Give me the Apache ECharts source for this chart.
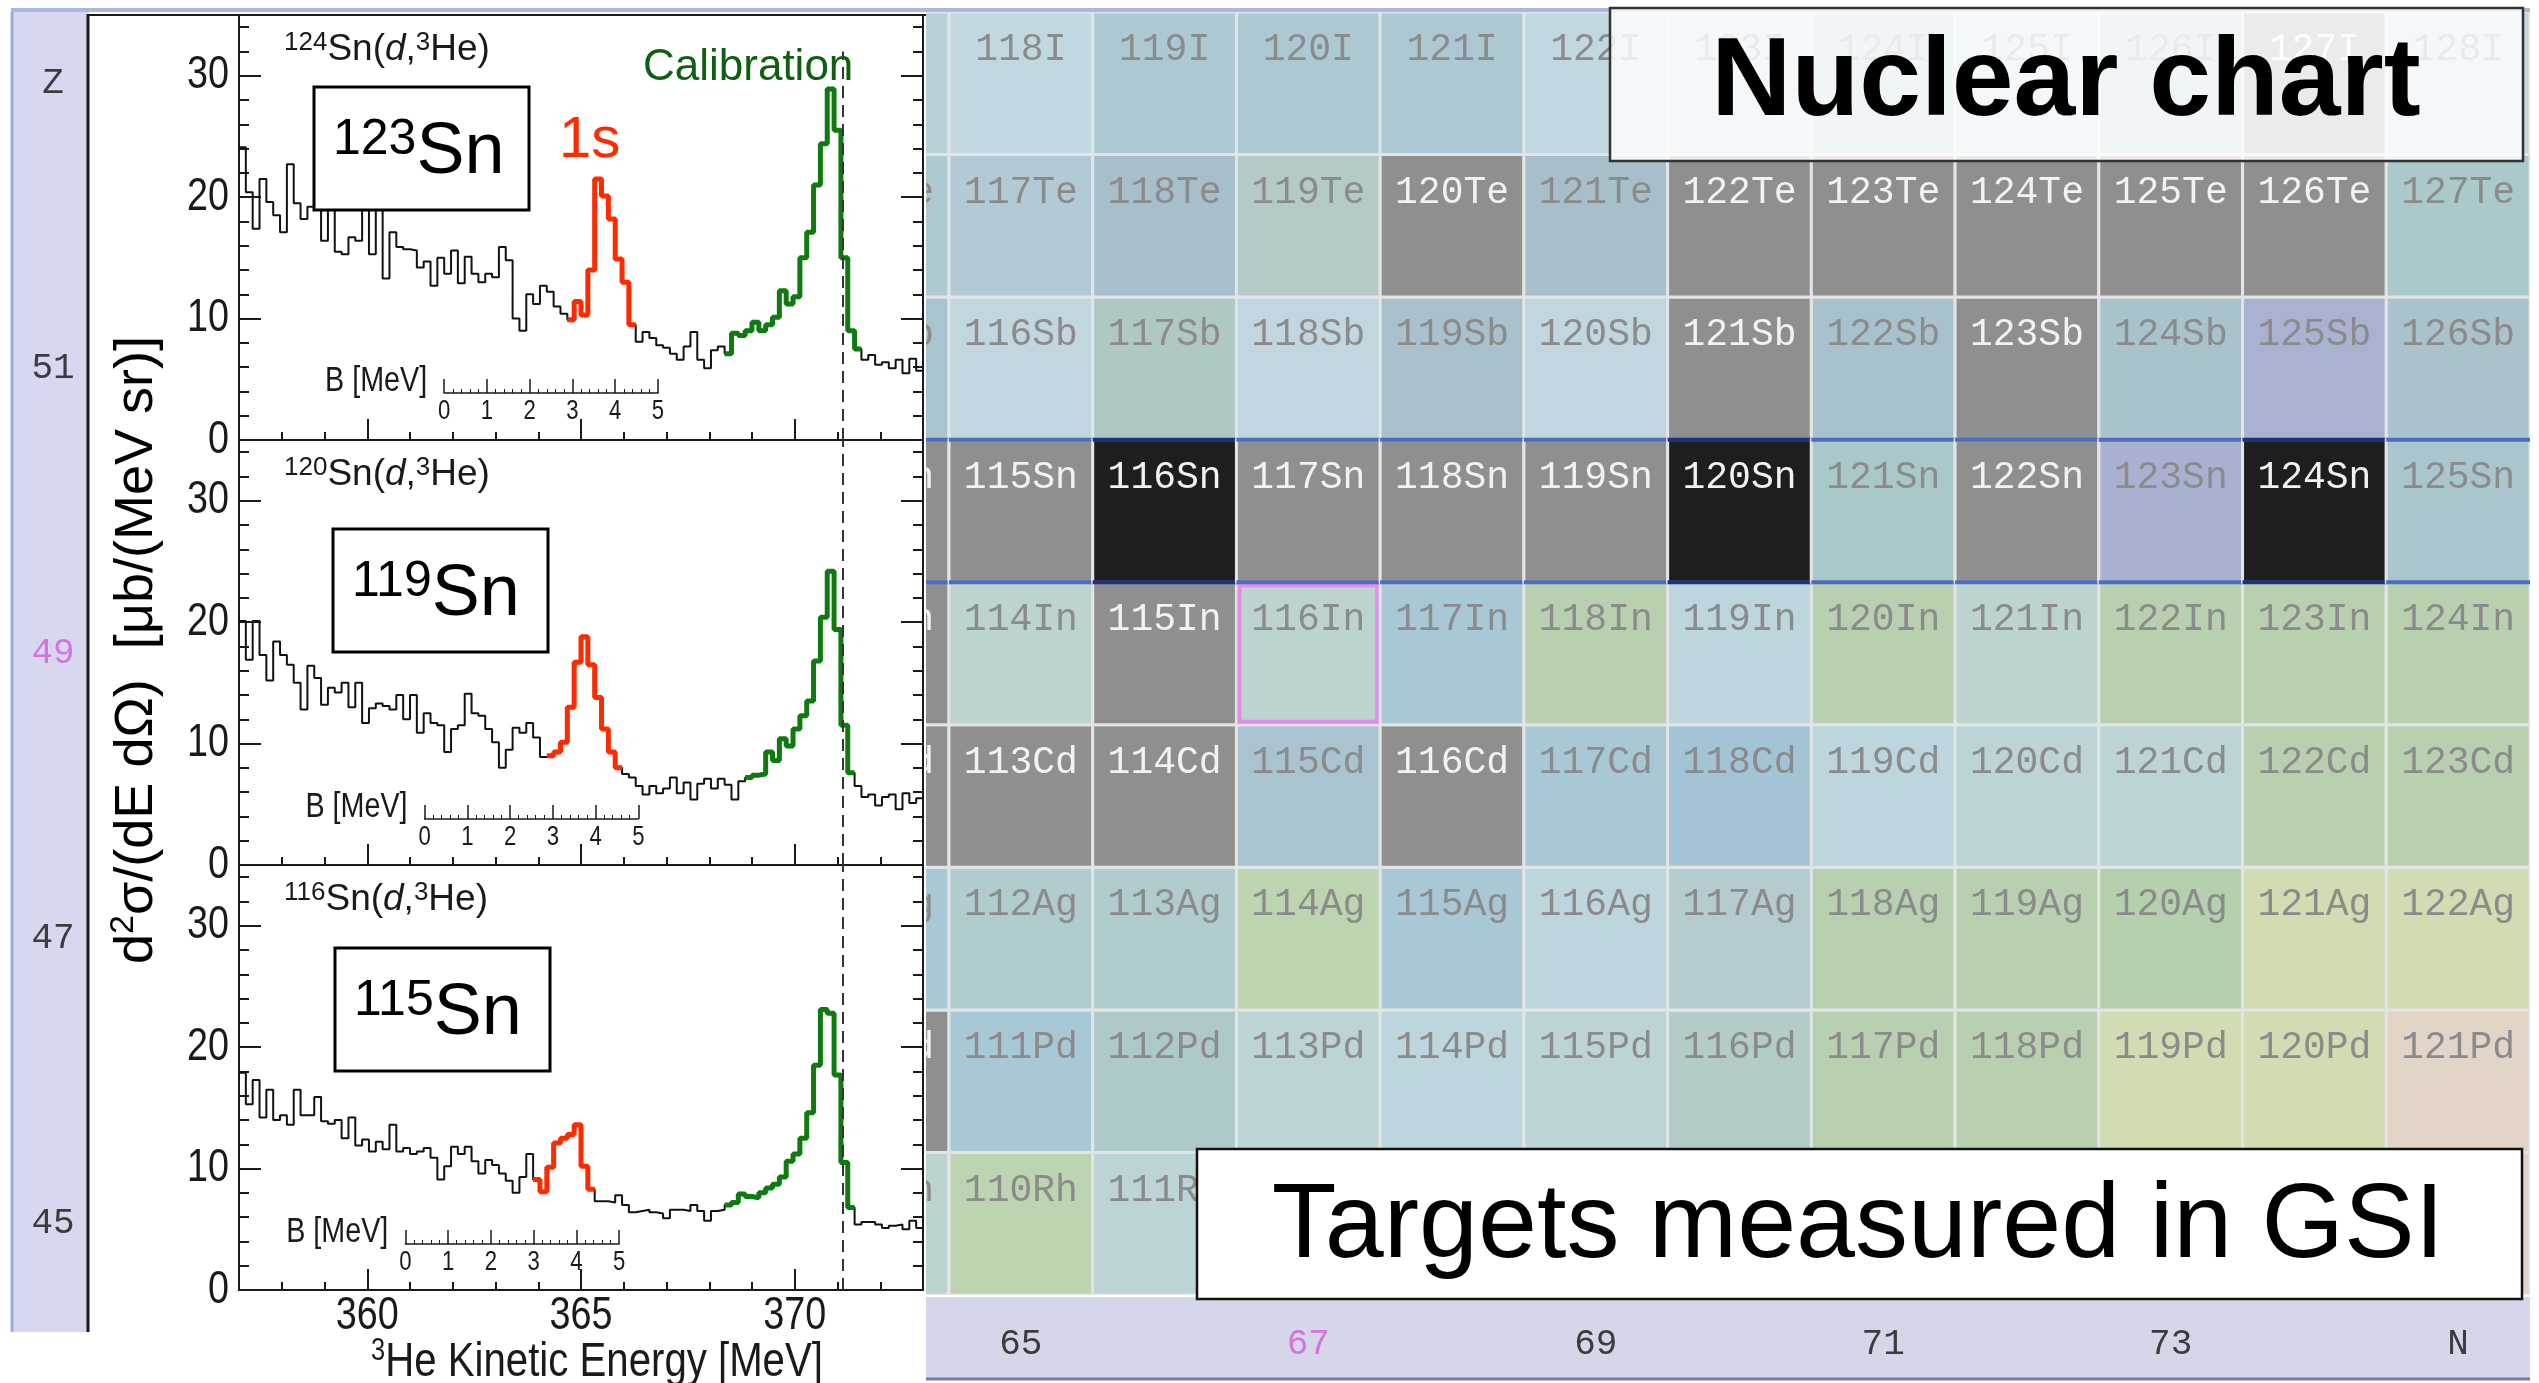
<!DOCTYPE html>
<html>
<head>
<meta charset="utf-8">
<title>(d,3He) spectra and nuclear chart</title>
<script src="https://cdn.jsdelivr.net/npm/echarts@6/dist/echarts.min.js"></script>
<style>
  html, body { margin: 0; padding: 0; background: #fff; }
  #main { width: 2539px; height: 1383px; }
</style>
</head>
<body>
<div id="main"></div>
<script>
var chart = echarts.init(document.getElementById('main'))

var SANS = "'Liberation Sans', Arial, sans-serif"
var MONO = "'Liberation Mono', 'DejaVu Sans Mono', monospace"
var INK = '#1a1a1a'
// the plot's own lettering is condensed; no narrow face is installed, so squeeze Liberation Sans
var NARROW_SCALE = 0.82

// ---- spectra: 3He kinetic energy, bins of 0.16 MeV from 357 to 373 MeV
var eMin = 357
var eMax = 373
var binWidth = 0.16
var sn124 = [24.1, 20.4, 17.4, 21.5, 19.6, 18.5, 17.1, 22.7, 19.5, 18.2,
  19.2, 19.5, 16.4, 20.0, 15.5, 15.3, 16.7, 16.4, 20.0, 15.3,
  20.0, 13.3, 17.1, 15.9, 15.7, 15.6, 14.2, 14.7, 12.7, 15.0,
  13.7, 15.6, 12.9, 15.1, 13.7, 13.0, 13.7, 13.4, 15.9, 14.8,
  10.0, 9.0, 12.0, 11.2, 12.7, 12.2, 11.0, 10.4, 9.9, 11.4,
  10.3, 14.0, 21.5, 20.1, 18.2, 14.9, 13.0, 9.5, 8.1, 8.9,
  8.4, 7.8, 7.6, 7.1, 6.6, 7.7, 8.9, 6.6, 5.9, 7.4,
  7.7, 7.1, 8.8, 8.6, 9.0, 9.7, 9.0, 9.5, 10.1, 12.3,
  11.2, 11.8, 15.0, 17.1, 21.0, 24.4, 28.9, 25.5, 15.0, 9.0,
  7.5, 6.6, 7.0, 6.2, 6.4, 5.9, 6.6, 5.5, 6.7, 5.7]
var sn120 = [20.1, 16.9, 20.1, 17.3, 15.2, 18.4, 17.3, 16.5, 15.0, 12.8,
  16.4, 15.4, 13.2, 14.6, 14.2, 15.0, 13.0, 15.0, 11.7, 12.9,
  13.3, 13.1, 12.8, 14.0, 12.0, 14.0, 10.9, 12.5, 11.7, 11.5,
  9.3, 11.2, 11.5, 14.1, 12.5, 12.3, 11.2, 10.1, 8.0, 9.5,
  11.3, 10.9, 11.7, 10.5, 8.9, 9.0, 9.3, 10.1, 13.0, 16.7,
  18.8, 16.5, 13.8, 11.2, 9.3, 8.0, 7.5, 7.2, 6.5, 5.8,
  6.5, 5.9, 6.3, 7.2, 5.9, 6.8, 5.4, 6.7, 7.1, 6.3,
  7.1, 6.6, 5.4, 6.9, 7.2, 7.4, 7.5, 9.3, 8.6, 10.4,
  9.8, 11.2, 12.3, 13.5, 16.8, 20.4, 24.2, 19.4, 11.5, 7.6,
  6.5, 5.6, 5.8, 4.9, 5.6, 5.8, 4.6, 5.9, 5.1, 5.5]
var sn116 = [17.9, 15.3, 17.3, 14.2, 16.5, 14.0, 14.4, 13.6, 16.5, 14.4,
  14.4, 15.9, 13.9, 13.7, 14.0, 12.5, 14.2, 11.9, 12.4, 11.4,
  12.2, 11.6, 13.6, 11.4, 11.7, 11.2, 11.4, 11.7, 10.9, 9.1,
  10.2, 11.8, 11.2, 11.8, 10.6, 9.6, 10.7, 10.3, 9.6, 9.0,
  8.0, 9.3, 11.2, 9.1, 8.1, 10.1, 12.1, 12.5, 12.8, 13.6,
  10.2, 8.3, 7.3, 7.3, 7.2, 7.8, 7.0, 6.4, 6.5, 6.6,
  6.4, 6.3, 5.9, 6.6, 6.6, 6.5, 7.0, 6.5, 5.7, 6.5,
  6.6, 7.0, 7.2, 7.9, 7.7, 7.6, 8.0, 8.4, 8.7, 9.3,
  10.6, 11.2, 12.5, 14.6, 18.5, 23.1, 22.8, 17.7, 10.5, 6.8,
  5.4, 5.6, 5.6, 5.4, 5.1, 5.3, 5.4, 5.0, 5.7, 5.1]
var spectra = [sn124, sn120, sn116]
var targets = ['124', '120', '116']
var residues = ['123', '119', '115']
// bins drawn in red (1s peak) and green (calibration peak): [first, last + 1]
var redBins = [[48, 58], [45, 56], [43, 52]]
var greenBins = [[71, 91], [74, 90], [71, 90]]
var calibEnergy = 371.13
var calibLineTop = [32, 35, 35]
var energyTicks = [360, 365, 370]
var yTicks = [0, 10, 20, 30]
var bTicks = [0, 1, 2, 3, 4, 5]
// energy of the B = 0 mark of each inset binding-energy scale
var bScaleStart = [361.80, 361.34, 360.89]

// ---- nuclear chart (N = 64..75, Z = 45..53); 'S' stable, 'T' measured target
var nValues = [64, 65, 66, 67, 68, 69, 70, 71, 72, 73, 74, 75]
var zValues = [45, 46, 47, 48, 49, 50, 51, 52, 53]
var elements = ['Rh', 'Pd', 'Ag', 'Cd', 'In', 'Sn', 'Sb', 'Te', 'I']
var rowRh = ['#bcd4d0', '#bcd4b0', '#bcd4d6', '#b8d0b0', '#b8d0b0', '#b8d0b0', '#d1dcb2', '#d1dcb2', '#d1dcb2', '#e2d5c8', '#e2d5c8', '#e2d5c8']
var rowPd = ['S', '#a9c8d5', '#adc9ca', '#bcd4d6', '#bdd5dd', '#bcd4d6', '#b4ccc8', '#b8d0b0', '#b8d0b0', '#d1dcb2', '#d1dcb2', '#e2d5c8']
var rowAg = ['#a9c8d5', '#b1cccf', '#b1cccf', '#bcd4b0', '#a9c8d5', '#bdd5dd', '#b4ccd0', '#b8d0b0', '#b8d0b0', '#b4d0ac', '#d1dcb2', '#d1dcb2']
var rowCd = ['S', 'S', 'S', '#a9c3d0', 'S', '#a9c8d5', '#a2c4d4', '#bdd5dd', '#bcd4d6', '#bcd4d6', '#b8d0b0', '#b8d0b0']
var rowIn = ['S', '#bcd3cf', 'S', '#bcd3cf', '#a9c8d5', '#b8d0b0', '#bdd5dd', '#b8d0b0', '#bcd3cf', '#b8d0b0', '#b8d0b0', '#b8d0b0']
var rowSn = ['S', 'S', 'T', 'S', 'S', 'S', 'T', '#a9c8c9', 'S', '#a8b1d0', 'T', '#a9c6cd']
var rowSb = ['#a8c4cf', '#c1d6de', '#b0c8c4', '#c1d6de', '#a9c1cd', '#c1d6de', 'S', '#a8c2cd', 'S', '#a8c3cc', '#a9b3d1', '#a9c2cc']
var rowTe = ['#afc9d3', '#b1cad5', '#a7bfcb', '#b3cac8', 'S', '#a7bfcb', 'S', 'S', 'S', 'S', 'S', '#a9c9cb']
var rowI = ['#b8d0d8', '#c2d8e0', '#abc8d3', '#abc8d3', '#abc8d3', '#c2d8e0', '#c2d8e0', '#abc8d3', '#c2d8e0', '#abc8d3', 'S', '#c2d8e0']
var nLabels = [65, 67, 69, 71, 73, 75]
var zLabels = [45, 47, 49, 51, 53]
var highlighted = [67, 49]

// ---- layout
var plotLeft = 239, plotWidth = 684, plotHeight = 425
var plotTops = [15, 440, 865]
var pxPerMeV = plotWidth / (eMax - eMin)
var bScaleAxisY = [393, 819, 1244]
var boxLeft = [314, 333, 335], boxDrop = [72, 89, 83]
var chartLeft = 926, chartTop = 12, chartWidth = 1604, chartHeight = 1283

var rows = [rowRh, rowPd, rowAg, rowCd, rowIn, rowSn, rowSb, rowTe, rowI]
var cells = []
rows.forEach(function (row, r) {
  row.forEach(function (kind, c) {
    var dark = kind === 'S' || kind === 'T'
    cells.push({
      n: nValues[c], z: zValues[r], kind: kind,
      label: (nValues[c] + zValues[r]) + elements[r],
      fill: kind === 'S' ? '#8f8f8f' : kind === 'T' ? '#1e1e1e' : kind,
      text: dark ? '#f2f2f2' : '#8b8b8b'
    })
  })
})
// the Z = 50 row carries the magic-number border, so draw it last
cells.sort(function (a, b) { return (a.z === 50) - (b.z === 50) })

function renderCell(params, api) {
  var cell = cells[params.dataIndex]
  var tl = api.coord([cell.n - 0.5, cell.z + 0.5])
  var br = api.coord([cell.n + 0.5, cell.z - 0.5])
  var w = br[0] - tl[0], h = br[1] - tl[1]
  var children = [{
    type: 'rect',
    shape: { x: tl[0], y: tl[1], width: w, height: h },
    style: { fill: cell.fill, stroke: '#e2e4e5', lineWidth: 3 }
  }, {
    type: 'text',
    style: {
      text: cell.label, x: tl[0] + w / 2, y: tl[1] + 38,
      align: 'center', verticalAlign: 'middle',
      fill: cell.text, font: '38px ' + MONO
    }
  }]
  if (cell.z === 50) {
    var edge = cell.kind === 'T' ? '#1f2f7a' : '#4d6cc0'
    children.push({ type: 'line', shape: { x1: tl[0], y1: tl[1], x2: br[0], y2: tl[1] }, style: { stroke: edge, lineWidth: 4 } })
    children.push({ type: 'line', shape: { x1: tl[0], y1: br[1], x2: br[0], y2: br[1] }, style: { stroke: edge, lineWidth: 4 } })
  }
  if (cell.n === highlighted[0] && cell.z === highlighted[1]) {
    children.push({ type: 'rect', shape: { x: tl[0] + 3, y: tl[1] + 3, width: w - 6, height: h - 6 }, style: { fill: 'none', stroke: '#e38ce8', lineWidth: 4 } })
  }
  return { type: 'group', children: children }
}

function stepPoints(values, from, to) {
  var pts = []
  for (var i = from; i < to; i++) pts.push([eMin + i * binWidth, values[i]])
  pts.push([eMin + to * binWidth, values[to - 1]])
  return pts
}

function narrowText(x, y, text, size, align, vAlign, extra) {
  var style = { text: text, fontSize: size, fontFamily: SANS, fill: INK, align: align, verticalAlign: vAlign }
  if (extra) for (var key in extra) style[key] = extra[key]
  return { type: 'text', z: 6, x: x, y: y, scaleX: NARROW_SCALE, style: style }
}

var tickLine = { color: INK, width: 2 }

var grids = [
  { left: chartLeft, top: chartTop, width: chartWidth, height: chartHeight, outerBoundsMode: 'none' },
  { left: 89, top: chartTop, width: 1, height: chartHeight, outerBoundsMode: 'none' }
]
var xAxes = [{
  gridIndex: 0, type: 'value', min: 64.34, max: 75.5, position: 'bottom',
  axisLine: { show: false }, axisTick: { show: false }, splitLine: { show: false },
  axisLabel: {
    customValues: nLabels, margin: 31, fontSize: 36, fontFamily: MONO, color: '#3c3c3c',
    formatter: function (v) { return v === 75 ? 'N' : v === 67 ? '{m|67}' : String(v) },
    rich: { m: { color: '#d575dc', fontSize: 36, fontFamily: MONO } }
  }
}, { gridIndex: 1, type: 'value', min: 0, max: 1, show: false }]
var yAxes = [{ gridIndex: 0, type: 'value', min: 44.5, max: 53.5, show: false }, {
  gridIndex: 1, type: 'value', min: 44.5, max: 53.5, position: 'left',
  axisLine: { show: false }, axisTick: { show: false }, splitLine: { show: false },
  axisLabel: {
    customValues: zLabels, margin: 36, align: 'center', fontSize: 36, fontFamily: MONO, color: '#3c3c3c',
    formatter: function (v) { return v === 53 ? 'Z' : v === 49 ? '{m|49}' : String(v) },
    rich: { m: { color: '#d575dc', fontSize: 36, fontFamily: MONO } }
  }
}]

var series = [{
  type: 'custom', xAxisIndex: 0, yAxisIndex: 0, clip: true, silent: true,
  renderItem: renderCell,
  data: cells.map(function (c) { return [c.n, c.z] })
}]

var plotXIndex = [], plotYIndex = [], bXIndex = []

plotTops.forEach(function (top, k) {
  var g = grids.length
  grids.push({ left: plotLeft, top: top, width: plotWidth, height: plotHeight, show: true, borderColor: INK, borderWidth: 2, outerBoundsMode: 'none' })
  var xi = xAxes.length, yi = yAxes.length
  plotXIndex.push(xi)
  plotYIndex.push(yi)
  xAxes.push({
    gridIndex: g, type: 'value', min: eMin, max: eMax, position: 'bottom',
    axisLine: { onZero: false, lineStyle: tickLine },
    axisTick: { inside: true, length: 21, customValues: energyTicks, lineStyle: tickLine },
    axisLabel: { show: false }, splitLine: { show: false }
  }, {
    gridIndex: g, type: 'value', min: eMin, max: eMax, interval: 1, position: 'bottom',
    axisLine: { show: false, onZero: false },
    axisTick: { inside: true, length: 8, lineStyle: tickLine },
    axisLabel: { show: false }, splitLine: { show: false }
  })
  ;['left', 'right'].forEach(function (side) {
    yAxes.push({
      gridIndex: g, type: 'value', min: 0, max: 35, interval: 10, position: side,
      axisLine: { show: true, onZero: false, lineStyle: tickLine },
      axisTick: { inside: true, length: 22, lineStyle: tickLine },
      axisLabel: { show: false }, splitLine: { show: false }
    }, {
      gridIndex: g, type: 'value', min: 0, max: 35, interval: 2, position: side,
      axisLine: { show: false, onZero: false },
      axisTick: { inside: true, length: 10, lineStyle: tickLine },
      axisLabel: { show: false }, splitLine: { show: false }
    })
  })
  var values = spectra[k]
  series.push({
    type: 'line', xAxisIndex: xi, yAxisIndex: yi, step: 'end', showSymbol: false, silent: true,
    lineStyle: { color: '#111', width: 2 },
    data: stepPoints(values, 0, values.length),
    markLine: {
      symbol: 'none', silent: true, label: { show: false },
      lineStyle: { color: '#333', width: 2, type: [12, 7] },
      data: [[{ coord: [calibEnergy, 0] }, { coord: [calibEnergy, calibLineTop[k]] }]]
    }
  }, {
    type: 'line', xAxisIndex: xi, yAxisIndex: yi, step: 'end', showSymbol: false, silent: true,
    lineStyle: { color: '#ff2a00', width: 5 },
    data: stepPoints(values, redBins[k][0], redBins[k][1])
  }, {
    type: 'line', xAxisIndex: xi, yAxisIndex: yi, step: 'end', showSymbol: false, silent: true,
    lineStyle: { color: '#0f7a12', width: 5 },
    data: stepPoints(values, greenBins[k][0], greenBins[k][1])
  })
})

// inset binding-energy scales
bScaleStart.forEach(function (e, k) {
  var g = grids.length
  grids.push({ left: plotLeft + (e - eMin) * pxPerMeV, top: bScaleAxisY[k] - 1, width: 5 * pxPerMeV, height: 1, outerBoundsMode: 'none' })
  bXIndex.push(xAxes.length)
  xAxes.push({
    gridIndex: g, type: 'value', min: 0, max: 5, interval: 1, position: 'bottom',
    axisLine: { onZero: false, lineStyle: { color: INK, width: 1.5 } },
    axisTick: { inside: true, length: 14, lineStyle: { color: INK, width: 1.5 } },
    minorTick: { show: true, splitNumber: 5, length: 4, lineStyle: { color: INK, width: 1 } },
    axisLabel: { show: false }, splitLine: { show: false }
  })
  yAxes.push({ gridIndex: g, type: 'value', min: 0, max: 1, show: false })
})

chart.setOption({
  animation: false,
  backgroundColor: '#fff',
  textStyle: { fontFamily: SANS },
  grid: grids,
  xAxis: xAxes,
  yAxis: yAxes,
  series: series
})

var graphics = [
  { type: 'rect', z: -10, shape: { x: 11, y: 12, width: 78, height: 1320 }, style: { fill: '#d7d7ef' } },
  { type: 'line', z: -9, shape: { x1: 12, y1: 12, x2: 12, y2: 1332 }, style: { stroke: '#9aaee0', lineWidth: 3 } },
  { type: 'line', z: -9, shape: { x1: 11, y1: 10, x2: 2530, y2: 10 }, style: { stroke: '#aab8e0', lineWidth: 4 } },
  { type: 'rect', z: -10, shape: { x: 926, y: 1297, width: 1604, height: 82 }, style: { fill: '#d5d6e9' } },
  { type: 'line', z: -9, shape: { x1: 926, y1: 1379, x2: 2530, y2: 1379 }, style: { stroke: '#6d7db0', lineWidth: 3 } },
  { type: 'rect', z: -10, shape: { x: 89, y: 15, width: 837, height: 1368 }, style: { fill: '#fff' } },
  { type: 'line', z: 5, shape: { x1: 88, y1: 14, x2: 88, y2: 1332 }, style: { stroke: INK, lineWidth: 3 } },
  { type: 'line', z: 5, shape: { x1: 88, y1: 15, x2: 926, y2: 15 }, style: { stroke: INK, lineWidth: 2 } },
  {
    type: 'text', z: 5, x: 137, y: 650, rotation: Math.PI / 2,
    style: {
      text: 'd{s|2}\u03c3/(dE d\u03a9)  [\u03bcb/(MeV sr)]', align: 'center', verticalAlign: 'middle',
      fontSize: 54, fontFamily: SANS, fill: '#000', lineHeight: 60,
      rich: { s: { fontSize: 34, fontFamily: SANS, verticalAlign: 'top', lineHeight: 40 } }
    }
  },
  narrowText(597, 1362, '{s|3}He Kinetic Energy [MeV]', 49, 'center', 'middle', {
    lineHeight: 52, rich: { s: { fontSize: 31, fontFamily: SANS, verticalAlign: 'top', lineHeight: 34 } }
  }),
  {
    type: 'rect', z: 50, shape: { x: 1610, y: 8, width: 913, height: 153 },
    style: { fill: 'rgba(255,255,255,0.82)', stroke: '#333', lineWidth: 2.5 }
  },
  {
    type: 'text', z: 51, x: 2066, y: 84,
    style: { text: 'Nuclear chart', align: 'center', verticalAlign: 'middle', fontSize: 111, fontWeight: 'bold', fontFamily: SANS, fill: '#000' }
  },
  {
    type: 'rect', z: 50, shape: { x: 1197, y: 1149, width: 1325, height: 150 },
    style: { fill: '#fff', stroke: '#111', lineWidth: 2.5 }
  },
  {
    type: 'text', z: 51, x: 1858, y: 1228,
    style: { text: 'Targets measured in GSI', align: 'center', verticalAlign: 'middle', fontSize: 106, fontFamily: SANS, fill: '#000' }
  }
]

plotTops.forEach(function (top, k) {
  // tick labels placed through the axes' own scales
  yTicks.forEach(function (v) {
    var py = chart.convertToPixel({ yAxisIndex: plotYIndex[k] }, v)
    graphics.push(narrowText(plotLeft - 10, py, String(v), 46, 'right', 'middle'))
  })
  if (k === 2) {
    energyTicks.forEach(function (v) {
      var px = chart.convertToPixel({ xAxisIndex: plotXIndex[k] }, v)
      graphics.push(narrowText(px, top + plotHeight + 3, String(v), 46, 'center', 'top'))
    })
  }
  var b0 = chart.convertToPixel({ xAxisIndex: bXIndex[k] }, 0)
  graphics.push(narrowText(b0 - 17, bScaleAxisY[k] - 12, 'B [MeV]', 35, 'right', 'middle'))
  bTicks.forEach(function (v) {
    var px = chart.convertToPixel({ xAxisIndex: bXIndex[k] }, v)
    graphics.push(narrowText(px, bScaleAxisY[k] + 5, String(v), 27, 'center', 'top'))
  })

  graphics.push({
    type: 'text', z: 20, x: 284, y: top + 35,
    style: {
      text: '{s|' + targets[k] + '}Sn({i|d},{s|3}He)', verticalAlign: 'middle',
      fontSize: 37, fontFamily: SANS, fill: INK, lineHeight: 40,
      rich: {
        s: { fontSize: 26, fontFamily: SANS, verticalAlign: 'top', lineHeight: 26 },
        i: { fontSize: 37, fontFamily: SANS, fontStyle: 'italic', lineHeight: 40 }
      }
    }
  }, {
    type: 'rect', z: 20, shape: { x: boxLeft[k], y: top + boxDrop[k], width: 215, height: 123 },
    style: { fill: '#fff', stroke: '#000', lineWidth: 3 }
  }, {
    type: 'text', z: 21, x: boxLeft[k] + 19, y: top + boxDrop[k] + 66,
    style: {
      text: '{s|' + residues[k] + '}{b|Sn}', verticalAlign: 'middle', fill: '#000',
      fontSize: 70, fontFamily: SANS, lineHeight: 76,
      rich: {
        s: { fontSize: 50, fontFamily: SANS, verticalAlign: 'top', lineHeight: 50 },
        b: { fontSize: 72, fontFamily: SANS, lineHeight: 76 }
      }
    }
  })
})
graphics.push({
  type: 'text', z: 20, x: 559, y: 141,
  style: { text: '1s', verticalAlign: 'middle', fontSize: 58, fontFamily: SANS, fill: '#ff2a00' }
}, {
  type: 'text', z: 20, x: 643, y: 68,
  style: { text: 'Calibration', verticalAlign: 'middle', fontSize: 44, fontFamily: SANS, fill: '#0e5f12' }
})

chart.setOption({ graphic: { elements: graphics } })
</script>
</body>
</html>
